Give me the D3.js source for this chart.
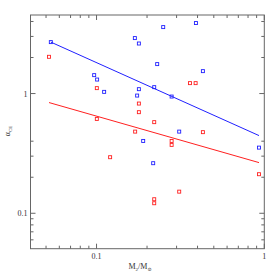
<!DOCTYPE html>
<html><head><meta charset="utf-8">
<script src="https://cdn.jsdelivr.net/npm/d3@7"></script>
<style>body{margin:0;background:#fff}text{font-family:"Liberation Serif","DejaVu Serif",serif}</style>
</head><body>
<svg id="c" width="279" height="279"></svg>
<script>
const blueX = [0.0534,0.1692,0.1788,0.0968,0.1008,0.1110,0.1788,0.1746,0.2497,0.3912,0.2299,0.4305,0.2207,0.2803,0.311,0.1897,0.2176,0.930];
const blueY = [2.69,2.906,2.618,1.425,1.309,1.033,1.088,0.962,3.59,3.88,1.762,1.539,1.131,0.944,0.481,0.402,0.262,0.3535];
const redX = [0.0521,0.1004,0.1788,0.1788,0.1004,0.1699,0.3604,0.3896,0.2207,0.4305,0.2803,0.2803,0.311,0.2207,0.2207,0.930,0.1205];
const redY = [2.027,1.110,0.825,0.699,0.614,0.481,1.222,1.222,0.577,0.476,0.402,0.3725,0.1516,0.131,0.1213,0.212,0.294];
const blueFitX = [0.0534,0.930], blueFitY = [2.69,0.4456];
const redFitX = [0.0521,0.930], redFitY = [0.841,0.265];
const xTickLabels = ["0.1","1"], yTickLabels = ["0.1","1"];

const L=30.5,R=264.3,T=15,B=248.7;
const svg=d3.select("#c");
const x=d3.scaleLog().domain([0.0404,1]).range([L,R]);
const y=d3.scaleLog().domain([0.0506,4.53]).range([B,T]);
const fc="#666";
const xMinor=[0.05,0.06,0.07,0.08,0.09,0.2,0.3,0.4,0.5,0.6,0.7,0.8,0.9];
const xMajor=[0.1,1];
const yMinor=[0.06,0.07,0.08,0.09,0.2,0.3,0.4,2,3,4];
const yMajor=[0.1,1];
const g=svg.append("g");
function ticks(vals,len){
  vals.forEach(v=>{
    const px=x(v);
    g.append("line").attr("x1",px).attr("x2",px).attr("y1",B).attr("y2",B-len).attr("stroke",fc);
    g.append("line").attr("x1",px).attr("x2",px).attr("y1",T).attr("y2",T+len).attr("stroke",fc);
  });
}
function yticks(vals,len){
  vals.forEach(v=>{
    const py=y(v);
    g.append("line").attr("y1",py).attr("y2",py).attr("x1",L).attr("x2",L+len).attr("stroke",fc);
    g.append("line").attr("y1",py).attr("y2",py).attr("x1",R).attr("x2",R-len).attr("stroke",fc);
  });
}
ticks(xMinor,3);ticks(xMajor,5);yticks(yMinor,3);yticks(yMajor,5);
g.append("rect").attr("x",L).attr("y",T).attr("width",R-L).attr("height",B-T).attr("fill","none").attr("stroke",fc);

xMajor.forEach((v,i)=>svg.append("text").attr("x",x(v)).attr("y",B+10).attr("text-anchor","middle").attr("font-size",8).attr("fill","#333").text(xTickLabels[i]));
yMajor.forEach((v,i)=>svg.append("text").attr("x",L-3).attr("y",y(v)+3).attr("text-anchor","end").attr("font-size",8).attr("fill","#333").text(yTickLabels[i]));

const xl=svg.append("text").attr("x",140).attr("y",269).attr("text-anchor","middle").attr("font-size",8).attr("fill","#333");
xl.append("tspan").text("M");
xl.append("tspan").attr("font-size",5).attr("dy",2).text("2");
xl.append("tspan").attr("dy",-2).text("/M");
xl.append("tspan").attr("font-size",5).attr("dy",2).text("⊙");
const yl=svg.append("text").attr("transform","translate(10,131) rotate(-90)").attr("text-anchor","middle").attr("font-size",8).attr("fill","#333");
yl.append("tspan").text("α");
yl.append("tspan").attr("font-size",5).attr("dy",2).text("CE");

const line=d3.line().x(d=>x(d[0])).y(d=>y(d[1]));
svg.append("path").attr("d",line(blueFitX.map((v,i)=>[v,blueFitY[i]]))).attr("stroke","#2020ff").attr("fill","none").attr("stroke-width",1);
svg.append("path").attr("d",line(redFitX.map((v,i)=>[v,redFitY[i]]))).attr("stroke","#ff2020").attr("fill","none").attr("stroke-width",1);

function pts(xs,ys,col){
  svg.append("g").selectAll("rect").data(xs.map((v,i)=>[v,ys[i]])).join("rect")
   .attr("x",d=>x(d[0])-1.5).attr("y",d=>y(d[1])-1.5).attr("width",3).attr("height",3)
   .attr("fill","none").attr("stroke",col).attr("stroke-width",0.9);
}
pts(blueX,blueY,"#2020ff");
pts(redX,redY,"#ff2020");
</script></body></html>
